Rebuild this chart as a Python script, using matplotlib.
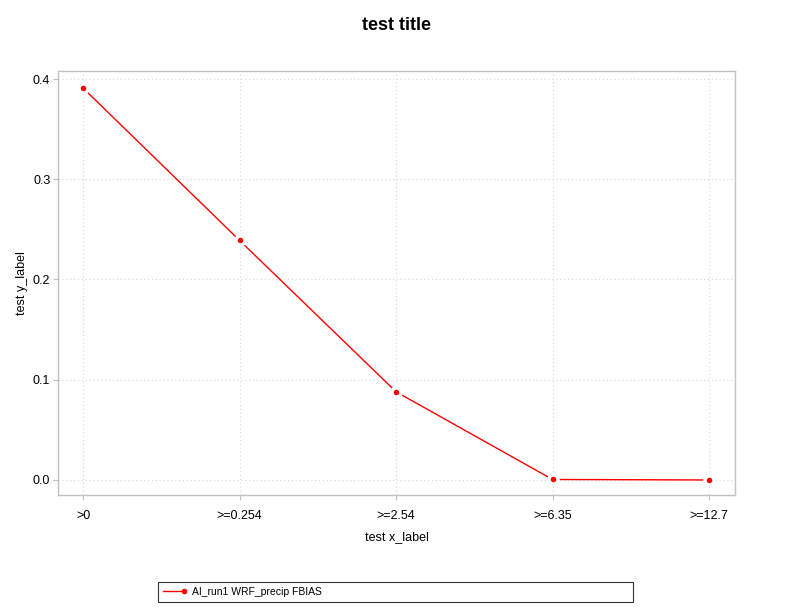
import matplotlib
matplotlib.use("Agg")
import matplotlib.pyplot as plt
from matplotlib.lines import Line2D
from matplotlib.legend_handler import HandlerBase

plt.rcParams['font.family'] = ['Liberation Sans', 'DejaVu Sans']

categories = [">0", ">=0.254", ">=2.54", ">=6.35", ">=12.7"]
fbias = [0.391, 0.239, 0.088, 0.0005, 0.0]
series_label = "AI_run1 WRF_precip FBIAS"
y_ticks = [0.0, 0.1, 0.2, 0.3, 0.4]


class LineEndMarker(HandlerBase):
    def create_artists(self, legend, orig_handle, xdescent, ydescent,
                       width, height, fontsize, trans):
        y = height / 2 - ydescent
        ln = Line2D([-xdescent, width - xdescent], [y, y], color='red', lw=1.0)
        mk = Line2D([width - xdescent], [y], color='red', marker='o',
                    markersize=3.0, linestyle='none')
        ln.set_transform(trans)
        mk.set_transform(trans)
        return [ln, mk]


fig = plt.figure(figsize=(7.92, 6.12), dpi=100)
ax = fig.add_axes([58/792, 1-495/612, (735-58)/792, (495-71)/612])

x = list(range(len(categories)))
line, = ax.plot(x, fbias, color='red', lw=1.0, marker='o', markersize=6.5,
                markerfacecolor='red', markeredgecolor='white', markeredgewidth=2.5,
                label=series_label, zorder=3)

ax.set_xlim(-0.16, 4.166)
ax.set_ylim(-0.015, 0.408)
ax.set_xticks(x)
ax.set_xticklabels(categories)
ax.set_yticks(y_ticks)
ax.set_yticklabels([f"{v:.1f}" for v in y_ticks])
ax.grid(True, color='#d8d8d8', linestyle=(0, (1, 2.5)), lw=0.8)
for s in ax.spines.values():
    s.set_color('#c0c0c0')
    s.set_linewidth(1.0)
ax.tick_params(axis='both', colors='#c0c0c0', labelcolor='black', labelsize=9,
               length=3.5, width=0.8)
ax.tick_params(axis='y', pad=2)
ax.tick_params(axis='x', pad=7)
ax.set_xlabel("test x_label", fontsize=9, labelpad=7)
ax.set_ylabel("test y_label", fontsize=9)
ax.yaxis.set_label_coords(-(58 - 28) / (735 - 58), 0.5)
fig.suptitle("test title", fontsize=13, fontweight='bold', y=1-25/612, va='center')

leg = fig.legend([line], [series_label], loc='center left',
                 bbox_to_anchor=(153/792, 1-592/612, (638-153)/792, 0),
                 mode='expand', fontsize=7.5, frameon=True, fancybox=False,
                 handlelength=2.0, handletextpad=0.8, borderpad=0.45,
                 handler_map={Line2D: LineEndMarker()})
leg.get_frame().set_edgecolor('black')
leg.get_frame().set_linewidth(0.8)
fig.savefig("out.png", dpi=100)
